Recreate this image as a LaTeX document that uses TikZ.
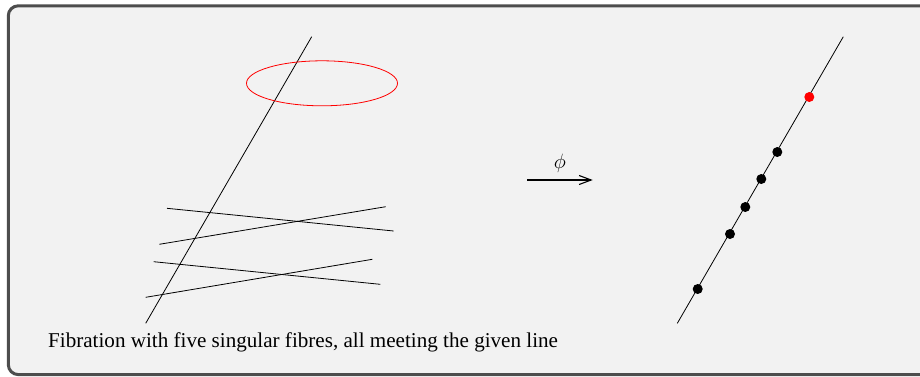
\documentclass[tikz,border=0pt]{standalone}
\usepackage{fontspec}
\setmainfont{Liberation Serif}
\usetikzlibrary{arrows.meta, positioning, shapes.geometric}

\definecolor{panelgray}{HTML}{F2F2F2}
\definecolor{framegray}{HTML}{4D4D4D}

\begin{document}
\begin{tikzpicture}[
    x=1pt, y=-1pt,
    % Styles
    frame/.style={draw=framegray, fill=panelgray, line width=3pt, rounded corners=10pt},
    fibre/.style={draw=black, line width=0.8pt},
    smooth_fibre/.style={draw=red, line width=0.8pt},
    sing_pt/.style={circle, fill=black, inner sep=0pt, minimum size=10pt},
    red_pt/.style={sing_pt, fill=red},
    map_arrow/.style={-{Straight Barb[length=12pt, width=9pt]}, line width=1.1pt},
    caption/.style={font=\fontsize{21.1}{24}\selectfont, inner sep=0pt}
]
    \useasboundingbox (0,0) rectangle (920,376);
    \clip (0,0) rectangle (920,376);

    % 1. PANEL
    \draw[frame] (8.3,5.8) rectangle (940,374.6);

    % 2. TOTAL SPACE
    \coordinate (sec_bot) at (145.7,323.3);
    \coordinate (sec_top) at (311.7,36.7);
    \draw[fibre] (sec_bot) -- (sec_top);

    % Generic fibre
    \node[smooth_fibre, ellipse, minimum width=151pt, minimum height=45pt, inner sep=0pt] (gen_fibre) at (322,83.3) {};

    % Singular fibres, two crossing pairs
    \coordinate (fa_l) at (167,208.3);    \coordinate (fa_r) at (393.7,231);
    \coordinate (fb_l) at (159.3,244.3);  \coordinate (fb_r) at (385.7,206.7);
    \coordinate (fc_l) at (153.7,261.7);  \coordinate (fc_r) at (380.3,284.3);
    \coordinate (fd_l) at (145.7,297.3);  \coordinate (fd_r) at (372.3,259.3);
    \draw[fibre] (fa_l) -- (fa_r);
    \draw[fibre] (fb_l) -- (fb_r);
    \draw[fibre] (fc_l) -- (fc_r);
    \draw[fibre] (fd_l) -- (fd_r);

    % 3. THE MAP
    \coordinate (phi_start) at (527.3,180);
    \coordinate (phi_end) at (592.7,180);
    \draw[map_arrow] (phi_start) -- node[above=4pt, font=\fontsize{20}{20}\selectfont] (phi_lbl) {$\phi$} (phi_end);

    % 4. BASE LINE
    \coordinate (base_bot) at (677.3,323.3);
    \coordinate (base_top) at (843.3,36.7);
    \draw[fibre] (base_bot) -- (base_top);

    \node[sing_pt] (crit_a) at (697.7,289) {};
    \node[sing_pt] (crit_b) at (730,234) {};
    \node[sing_pt] (crit_c) at (745.3,207) {};
    \node[sing_pt] (crit_d) at (761.3,179) {};
    \node[sing_pt] (crit_e) at (777.3,152) {};
    \node[red_pt] (reg_pt) at (809.3,97) {};

    % 5. CAPTION
    \node[caption, anchor=base west] (cap) at (48,347) {Fibration with five singular fibres, all meeting the given line};

\end{tikzpicture}
\end{document}
